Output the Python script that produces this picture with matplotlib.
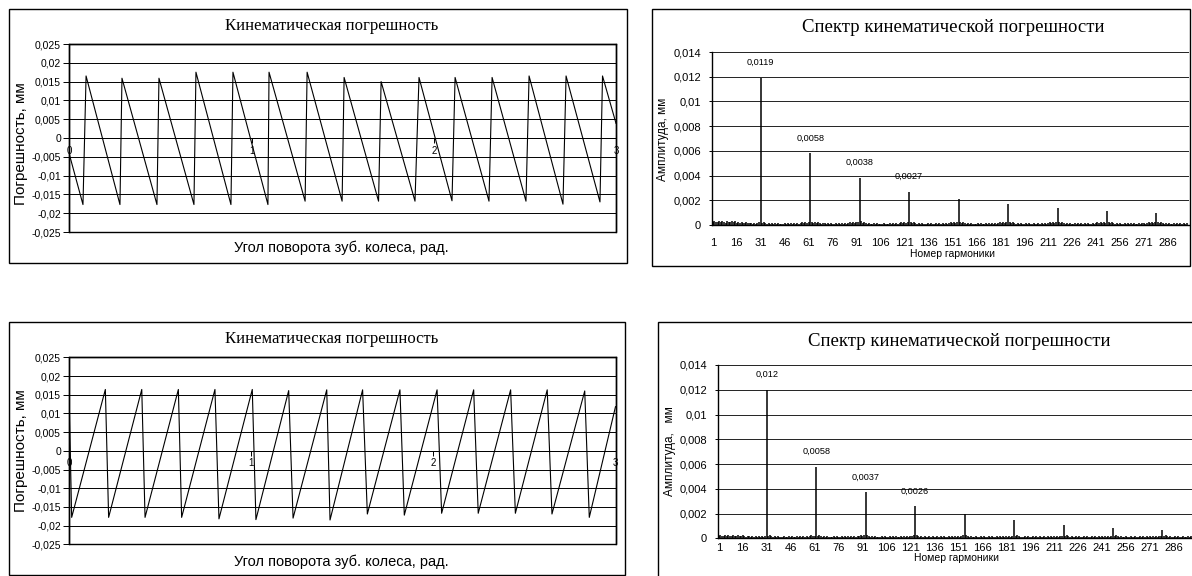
import matplotlib
matplotlib.use('Agg')
import matplotlib.pyplot as plt
from matplotlib.patches import Rectangle
import numpy as np

plt.rcParams['font.family'] = ['Liberation Sans', 'DejaVu Sans']

# ---- kinematic error curves (vertices) ----
angle_ticks = [0, 1, 2, 3]
angle_labels = ['0', '1', '2', '3']
err_ticks = [-0.025, -0.02, -0.015, -0.01, -0.005, 0, 0.005, 0.01, 0.015, 0.02, 0.025]
err_labels = ['-0,025', '-0,02', '-0,015', '-0,01', '-0,005', '0',
              '0,005', '0,01', '0,015', '0,02', '0,025']

# top chart: falling saw-tooth
top_start = (0.0, -0.0043)
top_end = (3.0, 0.0039)
top_trough_x = [0.075, 0.278, 0.481, 0.684, 0.887, 1.090, 1.294, 1.497,
                1.697, 1.897, 2.100, 2.303, 2.506, 2.709, 2.912]
top_trough_y = [-0.0177, -0.0177, -0.0177, -0.0177, -0.0177, -0.0177, -0.0168, -0.0168,
                -0.0168, -0.0168, -0.0167, -0.0168, -0.0168, -0.0176, -0.0170]
top_peak_x = [0.092, 0.289, 0.492, 0.695, 0.898, 1.096, 1.305, 1.508,
              1.711, 1.919, 2.117, 2.320, 2.523, 2.726, 2.926]
top_peak_y = [0.0165, 0.0159, 0.0159, 0.0175, 0.0175, 0.0175, 0.0175, 0.0161,
              0.0150, 0.0161, 0.0161, 0.0161, 0.0165, 0.0165, 0.0165]

# bottom chart: rising saw-tooth
bot_start = (0.0, 0.0125)
bot_end = (3.0, 0.0118)
bot_trough_x = [0.013, 0.216, 0.416, 0.617, 0.822, 1.025, 1.229, 1.432,
                1.637, 1.840, 2.045, 2.246, 2.450, 2.651, 2.856]
bot_trough_y = [-0.0178, -0.0178, -0.0178, -0.0178, -0.0182, -0.0184, -0.0180, -0.0185,
                -0.0169, -0.0172, -0.0167, -0.0167, -0.0167, -0.0169, -0.0178]
bot_peak_x = [0.198, 0.398, 0.599, 0.800, 1.005, 1.205, 1.414, 1.611,
              1.816, 2.020, 2.221, 2.424, 2.625, 2.831]
bot_peak_y = [0.0164, 0.0164, 0.0164, 0.0164, 0.0164, 0.0161, 0.0163, 0.0163,
              0.0163, 0.0163, 0.0163, 0.0163, 0.0163, 0.0160]

# ---- spectra ----
harm_peaks = [31, 62, 93, 124, 155, 186, 217, 248, 279]
top_peak_amp = [0.0119, 0.0058, 0.0038, 0.0027, 0.0021, 0.00167, 0.00139, 0.00117, 0.00094]
bot_peak_amp = [0.012, 0.0058, 0.0037, 0.0026, 0.0020, 0.0015, 0.00108, 0.00084, 0.00067]
n_labelled = 4
spec_ticks = [0, 0.002, 0.004, 0.006, 0.008, 0.01, 0.012, 0.014]
spec_labels = ['0', '0,002', '0,004', '0,006', '0,008', '0,01', '0,012', '0,014']
harm_ticks = list(range(1, 287, 15))
noise_unit = 0.00008
# small background harmonics, one digit per harmonic (units of noise_unit)
top_noise = ("3433434324" "3343423232" "2322212123" "0232121212" "1211121212"
             "1212123232" "3032323212" "2121211212" "1212123232" "3304232121"
             "1212111211" "1212121232" "3230323212" "1211121211" "2121212123"
             "2323032321" "2121112121" "1212121212" "3232303232" "1212112121"
             "1211212121" "2323230323" "2121211212" "1212121121" "2323232032"
             "3212121121" "2121211212" "2123232303" "2321212112" "12121212")
bot_noise = ("2322323223" "2232232122" "1212121212" "3232121211" "1211212112"
             "1212121232" "2323212121" "1121211212" "1212121223" "2323212121"
             "1121211212" "1211212121" "2232321212" "1121211212" "1211212121"
             "2123232121" "1211212112" "1211212121" "2121232321" "1121211212"
             "1211212121" "2121223232" "1211212112" "1211212121" "2121212323"
             "2121121121" "1211212121" "2121212232" "3212112121" "12112121")

W, H = 1192, 576
fig = plt.figure(figsize=(W / 100, H / 100), dpi=100)


def add_ax(l, t, r, b):
    return fig.add_axes([l / W, 1 - b / H, (r - l) / W, (b - t) / H])


def box(l, t, r, b):
    fig.add_artist(Rectangle((l / W, 1 - b / H), (r - l) / W, (b - t) / H,
                             transform=fig.transFigure, fill=False, lw=1.0, ec='black'))


def ftext(x, y, s, **kw):
    fig.text(x / W, 1 - y / H, s, ha='center', va='center', **kw)


def draw_error(rect, start, end, tx, ty, px, py, title_y, xlabel_y, ylabel_y):
    ax = add_ax(*rect)
    pts = sorted([start] + list(zip(tx, ty)) + list(zip(px, py)) + [end])
    ax.plot([p[0] for p in pts], [p[1] for p in pts], color='black', lw=0.8)
    ax.set_xlim(0, 3)
    ax.set_ylim(-0.025, 0.025)
    ax.set_yticks(err_ticks)
    ax.set_yticklabels(err_labels)
    ax.set_xticks(angle_ticks)
    ax.set_xticklabels(angle_labels)
    ax.grid(axis='y', color='black', lw=0.7)
    ax.spines['bottom'].set_position(('data', 0))
    ax.spines['bottom'].set_linewidth(0.7)
    for s in ['top', 'left', 'right']:
        ax.spines[s].set_linewidth(1.0)
    ax.add_patch(Rectangle((0, 0), 1, 1, transform=ax.transAxes, fill=False,
                           lw=1.0, clip_on=False))
    ax.tick_params(axis='y', length=4, width=0.7, pad=2, labelsize=7.5)
    ax.tick_params(axis='x', length=3.5, width=0.7, pad=2, labelsize=7, direction='out')
    ftext(332, title_y, 'Кинематическая погрешность', family='Liberation Serif', size=12)
    ftext(341, xlabel_y, 'Угол поворота зуб. колеса, рад.', size=10.5)
    ftext(21, ylabel_y, 'Погрешность, мм', size=11, rotation=90)


def draw_spectrum(rect, noise, peak_amp, ylabel, xpad, title_xy, xlabel_xy, ylabel_xy):
    l, t, r, b = rect
    ax = add_ax(*rect)
    amp = np.array([int(c) for c in noise]) * noise_unit
    amp[np.array(harm_peaks) - 1] = peak_amp
    harm = np.arange(1, len(amp) + 1)
    ax.vlines(harm, 0, amp, color='black', lw=1.1)
    for h, v in zip(harm_peaks[:n_labelled], peak_amp[:n_labelled]):
        ax.annotate(f'{v:g}'.replace('.', ','), (h, v), xytext=(0, 11),
                    textcoords='offset points', ha='center', va='center', fontsize=6.6)
    ax.set_xlim(0.5, 0.5 + (r - l) / 1.596)
    ax.set_ylim(0, 0.014)
    ax.set_yticks(spec_ticks)
    ax.set_yticklabels(spec_labels)
    ax.set_xticks(harm_ticks)
    ax.set_xticklabels([str(h) for h in harm_ticks])
    ax.grid(axis='y', color='#222222', lw=0.7)
    ax.set_axisbelow(True)
    ax.spines['right'].set_visible(False)
    ax.spines['top'].set_visible(False)
    ax.spines['left'].set_linewidth(1.0)
    ax.spines['bottom'].set_linewidth(1.0)
    ax.tick_params(axis='y', length=2, width=0.7, pad=6, labelsize=8)
    ax.tick_params(axis='x', length=0, pad=xpad, labelsize=8)
    ftext(*title_xy, 'Спектр кинематической погрешности', family='Liberation Serif', size=13.5)
    ftext(*xlabel_xy, 'Номер гармоники', size=7.5)
    ftext(*ylabel_xy, ylabel, size=8.5, rotation=90)


box(9, 9, 627, 263)
box(9, 322, 625, 575)
box(652, 9, 1190, 266)
box(658, 322, 1260, 640)

draw_error((69.3, 44, 616, 232), top_start, top_end, top_trough_x, top_trough_y,
           top_peak_x, top_peak_y, 26, 248, 144)
draw_error((69.3, 357.3, 615.5, 544.3), bot_start, bot_end, bot_trough_x, bot_trough_y,
           bot_peak_x, bot_peak_y, 339, 561.7, 451)

draw_spectrum((712, 52, 1189, 225), top_noise, top_peak_amp, 'Амплитуда, мм', 9.4,
              (953.5, 28), (952, 253.5), (663, 139))
draw_spectrum((718, 365, 1192, 538.3), bot_noise, bot_peak_amp, 'Амплитуда,   мм', 3.2,
              (959, 341.7), (957, 558), (670, 451))

fig.savefig('out.png', dpi=100)
